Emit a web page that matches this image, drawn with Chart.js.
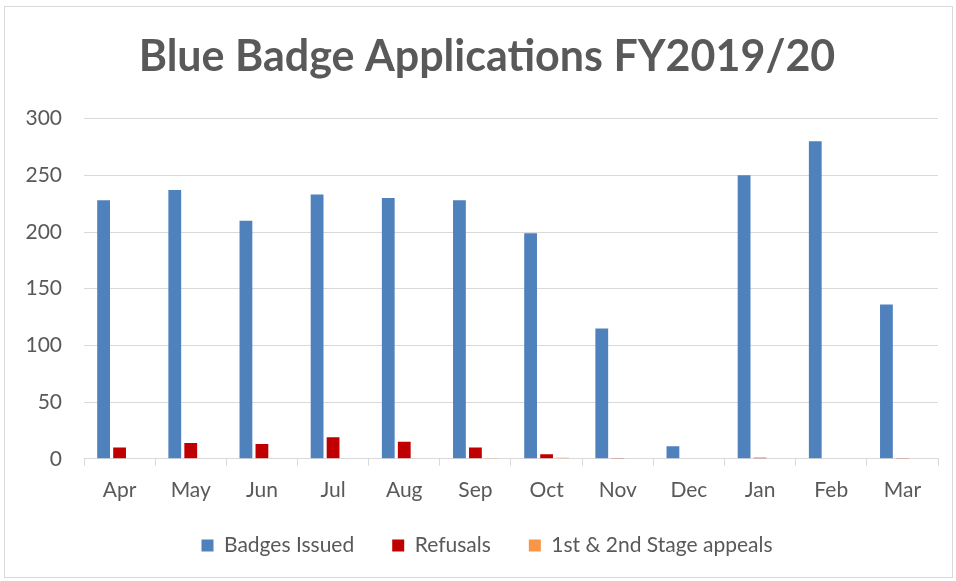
<!DOCTYPE html>
<html>
<head>
<meta charset="utf-8">
<script src="https://cdn.jsdelivr.net/npm/chart.js@4/dist/chart.umd.min.js"></script>
<style>
  html, body { margin: 0; padding: 0; background: #ffffff; }
  #wrap { position: absolute; left: 0; top: 0; width: 956px; height: 581px; }
</style>
</head>
<body>
<div id="wrap"><canvas id="c" width="956" height="581"></canvas></div>
<script>
const categories = ['Apr','May','Jun','Jul','Aug','Sep','Oct','Nov','Dec','Jan','Feb','Mar'];
const badgesIssued = [228, 237, 210, 233, 230, 228, 199, 115, 11, 250, 280, 136];
const refusals     = [10, 14, 13, 19, 15, 10, 4, 0.3, 0, 1, 0, 0.3];
const appeals      = [0, 0, 0, 0, 0, 0.3, 1, 0, 0, 0, 0, 0];
const yTicks = [0, 50, 100, 150, 200, 250, 300];

const textColor = '#595959';
const fontFam = 'Lato, "Open Sans", "Liberation Sans", sans-serif';
const LEGEND_SHIFT = 18;

const borderPlugin = {
  id: 'outerBorder',
  afterInit(chart) {
    const lg = chart.legend;
    if (lg && !lg._patched) {
      lg._patched = true;
      const origFit = lg.fit.bind(lg);
      lg.fit = function() { origFit(); this.height -= LEGEND_SHIFT; };
      const origDraw = lg.draw.bind(lg);
      lg.draw = function(a) {
        const t = this.top;
        this.top = t - LEGEND_SHIFT;
        origDraw(a);
        this.top = t;
      };
    }
  },
  beforeDraw(chart) {
    const ctx = chart.ctx;
    ctx.save();
    ctx.fillStyle = '#ffffff';
    ctx.fillRect(0, 0, chart.width, chart.height);
    ctx.strokeStyle = '#d9d9d9';
    ctx.lineWidth = 1;
    ctx.strokeRect(4.5, 6.5, 948, 571);
    ctx.restore();
  }
};

new Chart(document.getElementById('c'), {
  type: 'bar',
  data: {
    labels: categories,
    datasets: [
      { label: 'Badges Issued', data: badgesIssued, backgroundColor: '#4f81bd' },
      { label: 'Refusals', data: refusals, backgroundColor: '#c00000' },
      { label: '1st & 2nd Stage appeals', data: appeals, backgroundColor: '#f79646' }
    ]
  },
  options: {
    responsive: false,
    animation: false,
    devicePixelRatio: 1,
    layout: { padding: { left: 18, right: 0, top: 0, bottom: 15 } },
    datasets: { bar: { barPercentage: 0.8, categoryPercentage: 0.674 } },
    plugins: {
      title: {
        display: true,
        text: 'Blue Badge Applications FY2019/20',
        color: textColor,
        font: { family: fontFam, size: 43, weight: 'bold' },
        padding: { top: 31, bottom: 36 }
      },
      legend: {
        position: 'bottom',
        labels: {
          color: textColor,
          font: { family: fontFam, size: 21 },
          boxWidth: 12,
          boxHeight: 12,
          padding: 38
        }
      },
      tooltip: { enabled: false }
    },
    scales: {
      x: {
        grid: { display: true, drawOnChartArea: false, drawTicks: true, tickLength: 7, color: '#d9d9d9', offset: true },
        border: { display: true, color: '#d9d9d9', width: 1 },
        ticks: { color: textColor, font: { family: fontFam, size: 21 }, padding: 12 }
      },
      y: {
        min: 0, max: 300,
        afterFit(s) { s.width = 66; },
        afterBuildTicks(s) { s.ticks = yTicks.map(v => ({ value: v })); },
        grid: { color: '#d9d9d9', drawTicks: false },
        border: { display: false },
        ticks: { color: textColor, font: { family: fontFam, size: 21 }, padding: 22 }
      },
      yRightSpace: {
        position: 'right',
        display: true,
        min: 0, max: 300,
        afterFit(s) { s.width = 18; },
        grid: { display: false, drawTicks: false },
        border: { display: false },
        ticks: { display: false }
      }
    }
  },
  plugins: [borderPlugin]
});
</script>
</body>
</html>
